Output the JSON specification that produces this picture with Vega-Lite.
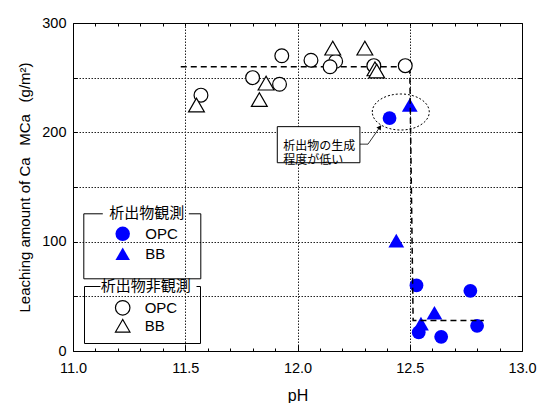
{
  "$schema": "https://vega.github.io/schema/vega-lite/v6.json",
  "width": 449,
  "height": 328,
  "autosize": {"type": "none"},
  "padding": {"left": 73, "top": 23, "right": 15, "bottom": 52},
  "background": "white",
  "config": {
    "view": {"stroke": "black", "strokeWidth": 1},
    "font": "Liberation Sans",
    "axis": {
      "labelFont": "Liberation Sans",
      "titleFont": "Liberation Sans",
      "labelFontSize": 14.5,
      "titleFontSize": 15,
      "titleFontWeight": "normal",
      "labelColor": "black",
      "titleColor": "black",
      "domain": false,
      "tickColor": "black",
      "tickWidth": 1,
      "gridColor": "#222222",
      "gridWidth": 1,
      "gridDash": [1.5, 1.5],
      "labelOverlap": false,
      "labelFlush": false
    }
  },
  "datasets": {
    "pts": [
      {"pH": 12.41, "M": 213, "cement": "OPC", "obs": "観測"},
      {"pH": 12.53, "M": 60, "cement": "OPC", "obs": "観測"},
      {"pH": 12.77, "M": 55, "cement": "OPC", "obs": "観測"},
      {"pH": 12.54, "M": 17, "cement": "OPC", "obs": "観測"},
      {"pH": 12.64, "M": 13, "cement": "OPC", "obs": "観測"},
      {"pH": 12.80, "M": 23, "cement": "OPC", "obs": "観測"},
      {"pH": 12.50, "M": 225, "cement": "BB", "obs": "観測"},
      {"pH": 12.44, "M": 101, "cement": "BB", "obs": "観測"},
      {"pH": 12.61, "M": 35, "cement": "BB", "obs": "観測"},
      {"pH": 12.55, "M": 25, "cement": "BB", "obs": "観測"},
      {"pH": 11.57, "M": 234, "cement": "OPC", "obs": "非観測"},
      {"pH": 11.80, "M": 250, "cement": "OPC", "obs": "非観測"},
      {"pH": 11.92, "M": 244, "cement": "OPC", "obs": "非観測"},
      {"pH": 11.93, "M": 270, "cement": "OPC", "obs": "非観測"},
      {"pH": 12.06, "M": 266, "cement": "OPC", "obs": "非観測"},
      {"pH": 12.17, "M": 265, "cement": "OPC", "obs": "非観測"},
      {"pH": 12.145, "M": 260, "cement": "OPC", "obs": "非観測"},
      {"pH": 12.34, "M": 261, "cement": "OPC", "obs": "非観測"},
      {"pH": 12.48, "M": 261, "cement": "OPC", "obs": "非観測"},
      {"pH": 11.55, "M": 225, "cement": "BB", "obs": "非観測"},
      {"pH": 11.83, "M": 230, "cement": "BB", "obs": "非観測"},
      {"pH": 11.86, "M": 245, "cement": "BB", "obs": "非観測"},
      {"pH": 12.157, "M": 277, "cement": "BB", "obs": "非観測"},
      {"pH": 12.30, "M": 277, "cement": "BB", "obs": "非観測"},
      {"pH": 12.345, "M": 258, "cement": "BB", "obs": "非観測"},
      {"pH": 12.353, "M": 256, "cement": "BB", "obs": "非観測"}
    ],
    "guide": [
      {"pH": 11.48, "M": 260},
      {"pH": 12.5, "M": 260},
      {"pH": 12.515, "M": 28},
      {"pH": 12.83, "M": 28}
    ],
    "zone": [
      {"pH": 12.46, "M": 218.6}
    ],
    "note": [
      {"pH": 11.91, "pH2": 12.278, "M": 205.2, "M2": 172.2, "textX": 11.937, "textY": 187.8, "label": "析出物の生成\n程度が低い"}
    ],
    "pointer": [
      {"pH": 12.278, "M": 189.2},
      {"pH": 12.314, "M": 189.2},
      {"pH": 12.367, "M": 204.8}
    ],
    "pointerHead": [
      {"pH": 12.367, "M": 204.8}
    ]
  },
  "layer": [
    {
      "data": {"name": "pts"},
      "transform": [{"filter": "datum.obs === '観測'"}],
      "mark": {"type": "point", "filled": true, "color": "#0000ff", "opacity": 1},
      "encoding": {
        "x": {
          "field": "pH", "type": "quantitative",
          "scale": {"domain": [11, 13], "nice": false, "zero": false},
          "axis": {
            "orient": "bottom",
            "title": "pH",
            "titleFontSize": 16,
            "titlePadding": 10,
            "values": [11, 11.1, 11.2, 11.3, 11.4, 11.5, 11.6, 11.7, 11.8, 11.9, 12, 12.1, 12.2, 12.3, 12.4, 12.5, 12.6, 12.7, 12.8, 12.9, 13],
            "labelExpr": "abs(datum.value * 2 - round(datum.value * 2)) < 0.01 ? format(datum.value, '.1f') : ''",
            "labelPadding": 16,
            "tickSize": {"condition": {"test": "abs(datum.value * 2 - round(datum.value * 2)) < 0.01", "value": -6}, "value": -3},
            "grid": true,
            "gridOpacity": {"condition": {"test": "abs(datum.value * 2 - round(datum.value * 2)) < 0.01 && datum.value > 11.01 && datum.value < 12.99", "value": 1}, "value": 0}
          }
        },
        "y": {
          "field": "M", "type": "quantitative",
          "scale": {"domain": [0, 300], "nice": false, "zero": true},
          "axis": {
            "orient": "left",
            "title": "Leaching amount of Ca\u2002 MCa\u2002 (g/m²)",
            "titlePadding": 9,
            "values": [0, 50, 100, 150, 200, 250, 300],
            "labelExpr": "datum.value % 100 === 0 ? datum.label : ''",
            "labelPadding": 11,
            "tickSize": -4,
            "grid": true,
            "gridOpacity": {"condition": {"test": "datum.value > 0 && datum.value < 300", "value": 1}, "value": 0}
          }
        },
        "shape": {
          "field": "cement", "type": "nominal",
          "scale": {"domain": ["OPC", "BB"], "range": ["circle", "triangle-up"]},
          "legend": {
            "title": "析出物観測\u3000",
            "orient": "none",
            "legendX": 10.3,
            "legendY": 190.3,
            "padding": 15,
            "titlePadding": -17.5,
            "rowPadding": -1,
            "symbolOffset": 16.4,
            "labelOffset": 14.6,
            "symbolSize": 210,
            "symbolFillColor": "#0000ff",
            "symbolStrokeColor": "#0000ff",
            "symbolOpacity": 1,
            "strokeColor": "black",
            "titleFont": "Noto Sans CJK JP",
            "titleFontSize": 15,
            "titleFontWeight": "normal",
            "titleColor": "black",
            "titleAnchor": "start",
            "labelFont": "Liberation Sans",
            "labelFontSize": 15,
            "labelColor": "black",
            "encoding": {
              "legend": {"strokeDash": {"value": [19, 86, 1000]}},
              "title": {"dy": {"value": -22.5}, "dx": {"value": 11}}
            }
          }
        },
        "size": {
          "field": "cement", "type": "nominal",
          "scale": {"domain": ["OPC", "BB"], "range": [190, 250]},
          "legend": null
        }
      }
    },
    {
      "data": {"name": "guide"},
      "mark": {"type": "line", "color": "black", "strokeWidth": 1.5, "strokeDash": [6, 4]},
      "encoding": {
        "x": {
          "field": "pH", "type": "quantitative",
          "axis": {
            "orient": "top",
            "title": null,
            "values": [11, 11.1, 11.2, 11.3, 11.4, 11.5, 11.6, 11.7, 11.8, 11.9, 12, 12.1, 12.2, 12.3, 12.4, 12.5, 12.6, 12.7, 12.8, 12.9, 13],
            "labels": false,
            "grid": false,
            "tickSize": -3
          }
        },
        "y": {
          "field": "M", "type": "quantitative",
          "axis": {
            "orient": "right",
            "title": null,
            "values": [0, 50, 100, 150, 200, 250, 300],
            "labels": false,
            "grid": false,
            "tickSize": -4
          }
        }
      }
    },
    {
      "data": {"name": "pts"},
      "transform": [{"filter": "datum.obs === '非観測'"}],
      "mark": {"type": "point", "filled": false, "fill": "white", "stroke": "black", "strokeWidth": 1.2, "opacity": 1},
      "encoding": {
        "x": {"field": "pH", "type": "quantitative", "axis": null},
        "y": {"field": "M", "type": "quantitative", "axis": null},
        "shape": {
          "field": "cement", "type": "nominal",
          "scale": {"domain": ["OPC", "BB"], "range": ["circle", "triangle-up"]},
          "legend": {
            "title": "析出物非観測\u3000",
            "orient": "none",
            "legendX": 11,
            "legendY": 263,
            "padding": 8.2,
            "titlePadding": -9.4,
            "rowPadding": -1,
            "symbolOffset": 22.5,
            "labelOffset": 14,
            "symbolSize": 210,
            "strokeColor": "black",
            "titleFont": "Noto Sans CJK JP",
            "titleFontSize": 15,
            "titleFontWeight": "normal",
            "titleColor": "black",
            "titleAnchor": "start",
            "labelFont": "Liberation Sans",
            "labelFontSize": 15,
            "labelColor": "black",
            "encoding": {
              "legend": {"strokeDash": {"value": [16, 96, 1000]}},
              "title": {"dy": {"value": -15.7}, "dx": {"value": 8.6}},
              "symbols": {"fill": {"value": "white"}, "stroke": {"value": "black"}, "strokeWidth": {"value": 1.2}, "opacity": {"value": 1}}
            }
          }
        },
        "size": {
          "field": "cement", "type": "nominal",
          "scale": {"domain": ["OPC", "BB"], "range": [190, 250]},
          "legend": null
        }
      }
    },
    {
      "data": {"name": "zone"},
      "mark": {
        "type": "point",
        "shape": "M-1,0A1,0.632,0,1,1,1,0A1,0.632,0,1,1,-1,0Z",
        "size": 3249,
        "filled": false,
        "stroke": "black",
        "strokeWidth": 1,
        "strokeDash": [2, 2],
        "opacity": 1
      },
      "encoding": {
        "x": {"field": "pH", "type": "quantitative", "axis": null},
        "y": {"field": "M", "type": "quantitative", "axis": null}
      }
    },
    {
      "data": {"name": "note"},
      "mark": {"type": "rect", "fill": "white", "stroke": "black", "strokeWidth": 1},
      "encoding": {
        "x": {"field": "pH", "type": "quantitative", "axis": null},
        "x2": {"field": "pH2"},
        "y": {"field": "M", "type": "quantitative", "axis": null},
        "y2": {"field": "M2"}
      }
    },
    {
      "data": {"name": "note"},
      "mark": {
        "type": "text",
        "align": "left",
        "baseline": "middle",
        "lineBreak": "\n",
        "lineHeight": 14,
        "font": "Noto Sans CJK JP",
        "fontSize": 12,
        "color": "black"
      },
      "encoding": {
        "x": {"field": "textX", "type": "quantitative", "axis": null},
        "y": {"field": "textY", "type": "quantitative", "axis": null},
        "text": {"field": "label"}
      }
    },
    {
      "data": {"name": "pointer"},
      "mark": {"type": "line", "color": "black", "strokeWidth": 0.8},
      "encoding": {
        "x": {"field": "pH", "type": "quantitative", "axis": null},
        "y": {"field": "M", "type": "quantitative", "axis": null}
      }
    },
    {
      "data": {"name": "pointerHead"},
      "mark": {"type": "point", "shape": "triangle-up", "angle": 35, "size": 28, "filled": true, "color": "black", "opacity": 1},
      "encoding": {
        "x": {"field": "pH", "type": "quantitative", "axis": null},
        "y": {"field": "M", "type": "quantitative", "axis": null}
      }
    }
  ],
  "resolve": {
    "scale": {"shape": "independent"},
    "axis": {"x": "independent", "y": "independent"},
    "legend": {"shape": "independent"}
  }
}
